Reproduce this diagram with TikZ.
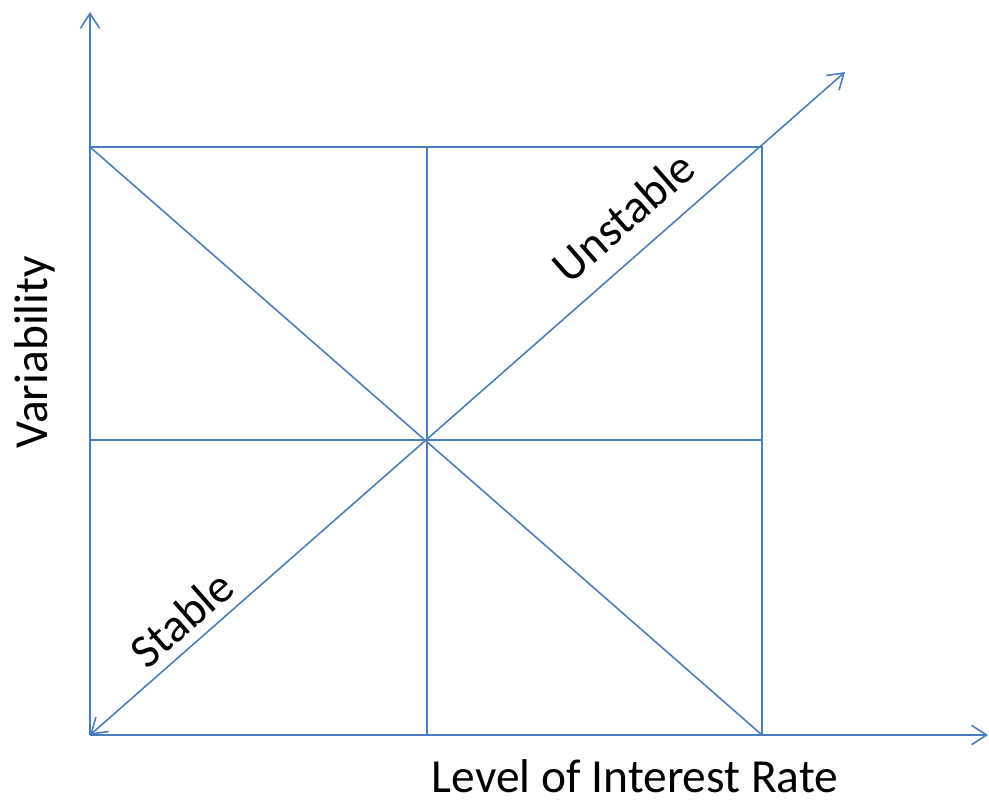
\documentclass[tikz,border=0pt]{standalone}
\usepackage{fontspec}
\setmainfont{Carlito}
\usetikzlibrary{arrows.meta}
\definecolor{axisblue}{HTML}{4A7EBB}

\begin{document}
\begin{tikzpicture}[x=0.02cm, y=-0.02cm, line width=0.9pt, draw=axisblue,
    tip/.tip={Straight Barb[length=8.5pt, width=11pt, line width=0.9pt]},
    barb/.style={-tip},
    lbl/.style={font=\fontsize{27}{30}\selectfont, inner sep=0pt, anchor=base}]
    \useasboundingbox (0,0) rectangle (989,803);
    % corners of the grid
    \coordinate (o) at (90,735);
    \coordinate (tl) at (90,147);
    \coordinate (tr) at (762,147);
    \coordinate (br) at (762,735);
    \coordinate (c) at (427,440);
    \coordinate (ml) at (90,440);
    \coordinate (mr) at (762,440);
    \coordinate (mt) at (427,147);
    \coordinate (mb) at (427,735);
    % axis ends
    \coordinate (ytip) at (90,12);
    \coordinate (xtip) at (988,735);
    \coordinate (dtip) at (845,72);

    \draw[barb] (o) -- (ytip);
    \draw[barb] (o) -- (xtip);
    \draw (tl) -- (tr) -- (br);
    \draw (ml) -- (mr);
    \draw (mt) -- (mb);
    \draw (tl) -- (br);
    \draw[tip-tip] (o) -- (dtip);

    \node[lbl, rotate=41.3] (unstable) at (634,229) {Unstable};
    \node[lbl, rotate=41.3] (stable) at (192,631) {Stable};
    \node[lbl, rotate=90] (yname) at (47,352) {Variability};
    \node[lbl] (xname) at (635,792) {Level of Interest Rate};
\end{tikzpicture}
\end{document}
